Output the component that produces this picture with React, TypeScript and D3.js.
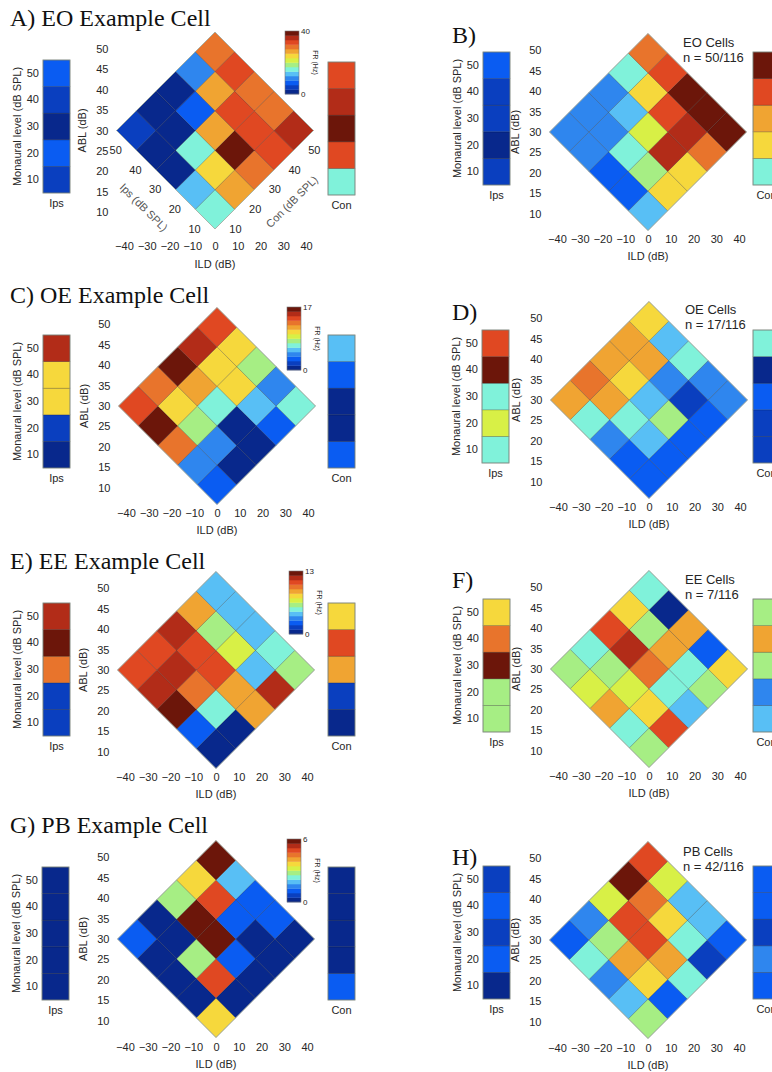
import React, { useEffect, useRef } from 'react';
import * as d3 from 'd3';

// sound levels (dB SPL) for each ear
const levels = [10, 20, 30, 40, 50];
const ildTicks = [-40, -30, -20, -10, 0, 10, 20, 30, 40];
const ablTicks = [10, 15, 20, 25, 30, 35, 40, 45, 50];

// discretised jet colormap, index = binned firing rate
const jetBins = [
  '#08288c', '#0a3fbf', '#0a5cf2', '#2f86ee', '#58bff5', '#80f2da', '#a6ee84',
  '#d8f046', '#f6d83c', '#f0a432', '#e8742c', '#e04822', '#b22c18', '#6c160a',
];

// grids: rows = ipsilateral level 10..50, columns = contralateral level 10..50
const eoCellGrid = [
  [5, 9, 10, 11, 12],
  [4, 8, 13, 11, 10],
  [0, 5, 9, 11, 10],
  [0, 0, 2, 9, 11],
  [1, 0, 0, 3, 10],
];
const eoCellIps = [1, 2, 0, 1, 2];
const eoCellCon = [5, 11, 13, 12, 11];

const eoPopGrid = [
  [4, 8, 8, 10, 13],
  [2, 6, 12, 12, 13],
  [2, 5, 7, 11, 13],
  [3, 3, 4, 8, 11],
  [3, 3, 3, 5, 10],
];
const eoPopIps = [1, 0, 1, 1, 2];
const eoPopCon = [5, 8, 9, 11, 13];

const oeCellGrid = [
  [2, 0, 0, 2, 5],
  [3, 3, 0, 4, 3],
  [10, 6, 5, 8, 6],
  [13, 8, 9, 8, 8],
  [11, 10, 13, 12, 11],
];
const oeCellIps = [0, 1, 8, 8, 12];
const oeCellCon = [2, 0, 0, 2, 4];

const oePopGrid = [
  [2, 2, 2, 2, 3],
  [2, 4, 6, 1, 3],
  [3, 5, 4, 3, 5],
  [5, 9, 8, 9, 4],
  [9, 10, 9, 9, 8],
];
const oePopIps = [5, 7, 5, 13, 11];
const oePopCon = [1, 1, 2, 0, 5];

const eeCellGrid = [
  [0, 0, 9, 12, 6],
  [2, 5, 9, 4, 5],
  [13, 10, 11, 7, 4],
  [12, 12, 11, 6, 4],
  [11, 11, 12, 9, 4],
];
const eeCellIps = [1, 1, 10, 13, 12];
const eeCellCon = [0, 1, 9, 11, 8];

const eePopGrid = [
  [6, 11, 4, 6, 8],
  [5, 8, 5, 5, 2],
  [9, 7, 10, 9, 9],
  [7, 6, 12, 6, 0],
  [6, 5, 11, 8, 5],
];
const eePopIps = [6, 6, 13, 10, 8];
const eePopCon = [4, 3, 6, 9, 6];

const pbCellGrid = [
  [8, 0, 0, 0, 0],
  [0, 11, 2, 0, 2],
  [0, 6, 13, 2, 2],
  [0, 0, 13, 11, 4],
  [2, 0, 6, 8, 13],
];
const pbCellIps = [0, 0, 0, 0, 0];
const pbCellCon = [2, 0, 0, 0, 0];

const pbPopGrid = [
  [6, 2, 5, 1, 2],
  [4, 8, 9, 5, 4],
  [3, 9, 11, 8, 4],
  [5, 6, 11, 10, 7],
  [2, 3, 7, 13, 11],
];
const pbPopIps = [0, 2, 1, 2, 1];
const pbPopCon = [2, 3, 1, 2, 2];

const panels = [
  { grid: eoCellGrid, ips: eoCellIps, con: eoCellCon, title: 'A) EO Example Cell', tx: 10, ty: 26,
    cx: 215, cy: 130.5, ildOff: 112, ipsBar: [43, 60], conBar: [328, 62], cbar: [285, 31], cbarMax: 40, diag: true },
  { grid: eoPopGrid, ips: eoPopIps, con: eoPopCon, title: 'B)', tx: 452, ty: 43,
    cx: 648, cy: 132, ildOff: 103, ipsBar: [483, 52], conBar: [753, 52], note: ['EO Cells', 'n = 50/116'], nx: 683, ny: 47 },
  { grid: oeCellGrid, ips: oeCellIps, con: oeCellCon, title: 'C) OE Example Cell', tx: 10, ty: 303,
    cx: 217, cy: 406, ildOff: 103, ipsBar: [43, 335], conBar: [328, 335], cbar: [287, 307], cbarMax: 17 },
  { grid: oePopGrid, ips: oePopIps, con: oePopCon, title: 'D)', tx: 452, ty: 320,
    cx: 649, cy: 400, ildOff: 103, ipsBar: [482, 330], conBar: [753, 330], note: ['OE Cells', 'n = 17/116'], nx: 685, ny: 314 },
  { grid: eeCellGrid, ips: eeCellIps, con: eeCellCon, title: 'E) EE Example Cell', tx: 10, ty: 569,
    cx: 216, cy: 670, ildOff: 103, ipsBar: [43, 603], conBar: [328, 603], cbar: [289, 571], cbarMax: 13 },
  { grid: eePopGrid, ips: eePopIps, con: eePopCon, title: 'F)', tx: 452, ty: 588,
    cx: 649, cy: 669, ildOff: 103, ipsBar: [483, 599], conBar: [753, 599], note: ['EE Cells', 'n = 7/116'], nx: 685, ny: 584 },
  { grid: pbCellGrid, ips: pbCellIps, con: pbCellCon, title: 'G) PB Example Cell', tx: 10, ty: 833,
    cx: 216, cy: 939, ildOff: 104, ipsBar: [42, 867], conBar: [328, 867], cbar: [287, 839], cbarMax: 6 },
  { grid: pbPopGrid, ips: pbPopIps, con: pbPopCon, title: 'H)', tx: 452, ty: 865,
    cx: 648, cy: 940, ildOff: 104, ipsBar: [483, 866], conBar: [753, 866], note: ['PB Cells', 'n = 42/116'], nx: 683, ny: 856 },
];

const sans = 'Liberation Sans, Arial, Helvetica, sans-serif';
const serif = 'Liberation Serif, Times New Roman, serif';
const ink = '#262626';

const App = () => {
  const svgRef = useRef<SVGSVGElement>(null);

  useEffect(() => {
    const svg = d3.select(svgRef.current);
    svg.selectAll('*').remove();

    const color = d3.scaleQuantize<string>().domain([0, jetBins.length]).range(jetBins);
    const half = 98.5; // half diagonal of the diamond
    const side = half * Math.SQRT2;
    const barW = 27;
    const barH = 133;

    const styleAxis = (a: any, size = 11) => {
      a.select('.domain').remove();
      a.attr('font-family', sans).attr('font-size', size);
      a.selectAll('text').attr('fill', ink);
    };

    panels.forEach((p) => {
      const g = svg.append('g');

      // title
      g.append('text')
        .attr('x', p.tx).attr('y', p.ty)
        .attr('font-family', serif).attr('font-size', 24).attr('fill', '#111')
        .text(p.title);

      // diamond: rotated square, x = contra level, y = ipsi level
      const conBand = d3.scaleBand<number>().domain(levels).range([0, side]);
      const ipsBand = d3.scaleBand<number>().domain([...levels].reverse()).range([-side, 0]);
      const diamond = g.append('g')
        .attr('transform', `translate(${p.cx},${p.cy + half}) rotate(-45)`);
      const cells = p.grid.flatMap((row, i) => row.map((v, j) => ({ ips: levels[i], con: levels[j], v })));
      diamond.selectAll('rect.cell').data(cells).join('rect')
        .attr('class', 'cell')
        .attr('x', (d) => conBand(d.con)!)
        .attr('y', (d) => ipsBand(d.ips)!)
        .attr('width', conBand.bandwidth())
        .attr('height', ipsBand.bandwidth())
        .attr('fill', (d) => color(d.v))
        .attr('stroke', 'rgba(0,0,0,0.28)')
        .attr('stroke-width', 0.7);
      diamond.append('rect')
        .attr('x', 0).attr('y', -side).attr('width', side).attr('height', side)
        .attr('fill', 'none').attr('stroke', '#a9b4a9').attr('stroke-width', 0.8);

      if (p.diag) {
        const bw = conBand.bandwidth();
        diamond.selectAll('text.ipsTick').data(levels).join('text')
          .attr('class', 'ipsTick')
          .attr('transform', (d) => `translate(-15,${ipsBand(d)! + bw / 2}) rotate(45)`)
          .attr('text-anchor', 'middle').attr('dominant-baseline', 'middle')
          .attr('font-family', sans).attr('font-size', 11).attr('fill', ink)
          .text((d) => d);
        diamond.selectAll('text.conTick').data(levels).join('text')
          .attr('class', 'conTick')
          .attr('transform', (d) => `translate(${conBand(d)! + bw / 2},15) rotate(45)`)
          .attr('text-anchor', 'middle').attr('dominant-baseline', 'middle')
          .attr('font-family', sans).attr('font-size', 11).attr('fill', ink)
          .text((d) => d);
        diamond.append('text')
          .attr('transform', `translate(-36,${-side / 2 + 4}) rotate(90)`)
          .attr('text-anchor', 'middle').attr('dominant-baseline', 'middle')
          .attr('font-family', sans).attr('font-size', 11).attr('fill', '#555')
          .text('Ips (dB SPL)');
        diamond.append('text')
          .attr('transform', `translate(${side / 2 + 4},36)`)
          .attr('text-anchor', 'middle').attr('dominant-baseline', 'middle')
          .attr('font-family', sans).attr('font-size', 11).attr('fill', '#555')
          .text('Con (dB SPL)');
      }

      // ABL axis
      const abl = d3.scaleLinear().domain([10, 50]).range([p.cy + 81.6, p.cy - 81.6]);
      g.append('g')
        .attr('transform', `translate(${p.cx - half - 8},0)`)
        .call(d3.axisLeft(abl).tickValues(ablTicks).tickSize(0).tickPadding(0))
        .call((a) => styleAxis(a));
      g.append('text')
        .attr('transform', `translate(${p.cx - half - 33},${p.cy}) rotate(-90)`)
        .attr('text-anchor', 'middle').attr('dominant-baseline', 'middle')
        .attr('font-family', sans).attr('font-size', 11).attr('fill', ink)
        .text('ABL (dB)');

      // ILD axis
      const ild = d3.scaleLinear().domain([-40, 40]).range([p.cx - 91, p.cx + 91]);
      const ildTop = p.cy + p.ildOff;
      g.append('g')
        .attr('transform', `translate(0,${ildTop})`)
        .call(d3.axisBottom(ild).tickValues(ildTicks).tickSize(0).tickPadding(0))
        .call((a) => styleAxis(a));
      g.append('text')
        .attr('x', p.cx).attr('y', ildTop + 25)
        .attr('text-anchor', 'middle')
        .attr('font-family', sans).attr('font-size', 11).attr('fill', ink)
        .text('ILD (dB)');

      // monaural bars
      const barBand = d3.scaleBand<number>().domain([...levels].reverse());
      const drawBar = (vals: number[], pos: number[], label: string, withAxis: boolean) => {
        const [bx, by] = pos;
        barBand.range([by, by + barH]);
        const bar = g.append('g');
        bar.selectAll('rect').data(levels).join('rect')
          .attr('x', bx).attr('y', (d) => barBand(d)!)
          .attr('width', barW).attr('height', barBand.bandwidth())
          .attr('fill', (d, i) => color(vals[i]))
          .attr('stroke', 'rgba(0,0,0,0.3)').attr('stroke-width', 0.7);
        bar.append('rect')
          .attr('x', bx).attr('y', by).attr('width', barW).attr('height', barH)
          .attr('fill', 'none').attr('stroke', '#8a948a').attr('stroke-width', 0.8);
        bar.append('text')
          .attr('x', bx + barW / 2).attr('y', by + barH + 14)
          .attr('text-anchor', 'middle')
          .attr('font-family', sans).attr('font-size', 11).attr('fill', ink)
          .text(label);
        if (withAxis) {
          g.append('g')
            .attr('transform', `translate(${bx - 4},0)`)
            .call(d3.axisLeft(barBand).tickValues([50, 40, 30, 20, 10]).tickSize(0).tickPadding(0))
            .call((a) => styleAxis(a));
          g.append('text')
            .attr('transform', `translate(${bx - 25},${by + barH / 2}) rotate(-90)`)
            .attr('text-anchor', 'middle').attr('dominant-baseline', 'middle')
            .attr('font-family', sans).attr('font-size', 11).attr('fill', ink)
            .text('Monaural level (dB SPL)');
        }
      };
      drawBar(p.ips, p.ipsBar, 'Ips', true);
      drawBar(p.con, p.conBar, 'Con', false);

      // colour bar for example cells
      if (p.cbar) {
        const [cx0, cy0] = p.cbar;
        const cbW = 14;
        const cbH = 63;
        const bins = d3.range(jetBins.length);
        const cbBand = d3.scaleBand<number>().domain([...bins].reverse()).range([cy0, cy0 + cbH]);
        g.append('g').selectAll('rect').data(bins).join('rect')
          .attr('x', cx0).attr('y', (d) => cbBand(d)!)
          .attr('width', cbW).attr('height', cbBand.bandwidth() + 0.3)
          .attr('fill', (d) => jetBins[d]);
        g.append('rect')
          .attr('x', cx0).attr('y', cy0).attr('width', cbW).attr('height', cbH)
          .attr('fill', 'none').attr('stroke', '#777').attr('stroke-width', 0.6);
        const cbScale = d3.scaleLinear().domain([0, p.cbarMax!]).range([cy0 + cbH, cy0]);
        g.append('g')
          .attr('transform', `translate(${cx0 + cbW + 1},0)`)
          .call(d3.axisRight(cbScale).tickValues([0, p.cbarMax!]).tickFormat(d3.format('d')).tickSize(0).tickPadding(1))
          .call((a) => styleAxis(a, 8));
        g.append('text')
          .attr('transform', `translate(${cx0 + cbW + 16},${cy0 + cbH / 2}) rotate(90)`)
          .attr('text-anchor', 'middle').attr('dominant-baseline', 'middle')
          .attr('font-family', sans).attr('font-size', 7).attr('fill', ink)
          .text('FR (Hz)');
      }

      // population counts
      if (p.note) {
        g.append('g').selectAll('text').data(p.note).join('text')
          .attr('x', p.nx!).attr('y', (d, i) => p.ny! + i * 15)
          .attr('font-family', sans).attr('font-size', 13).attr('fill', ink)
          .text((d) => d);
      }
    });
  }, []);

  return (
    <svg
      ref={svgRef}
      width={772}
      height={1072}
      style={{ position: 'absolute', left: 0, top: 0, background: '#fff' }}
    />
  );
};

export default App;
